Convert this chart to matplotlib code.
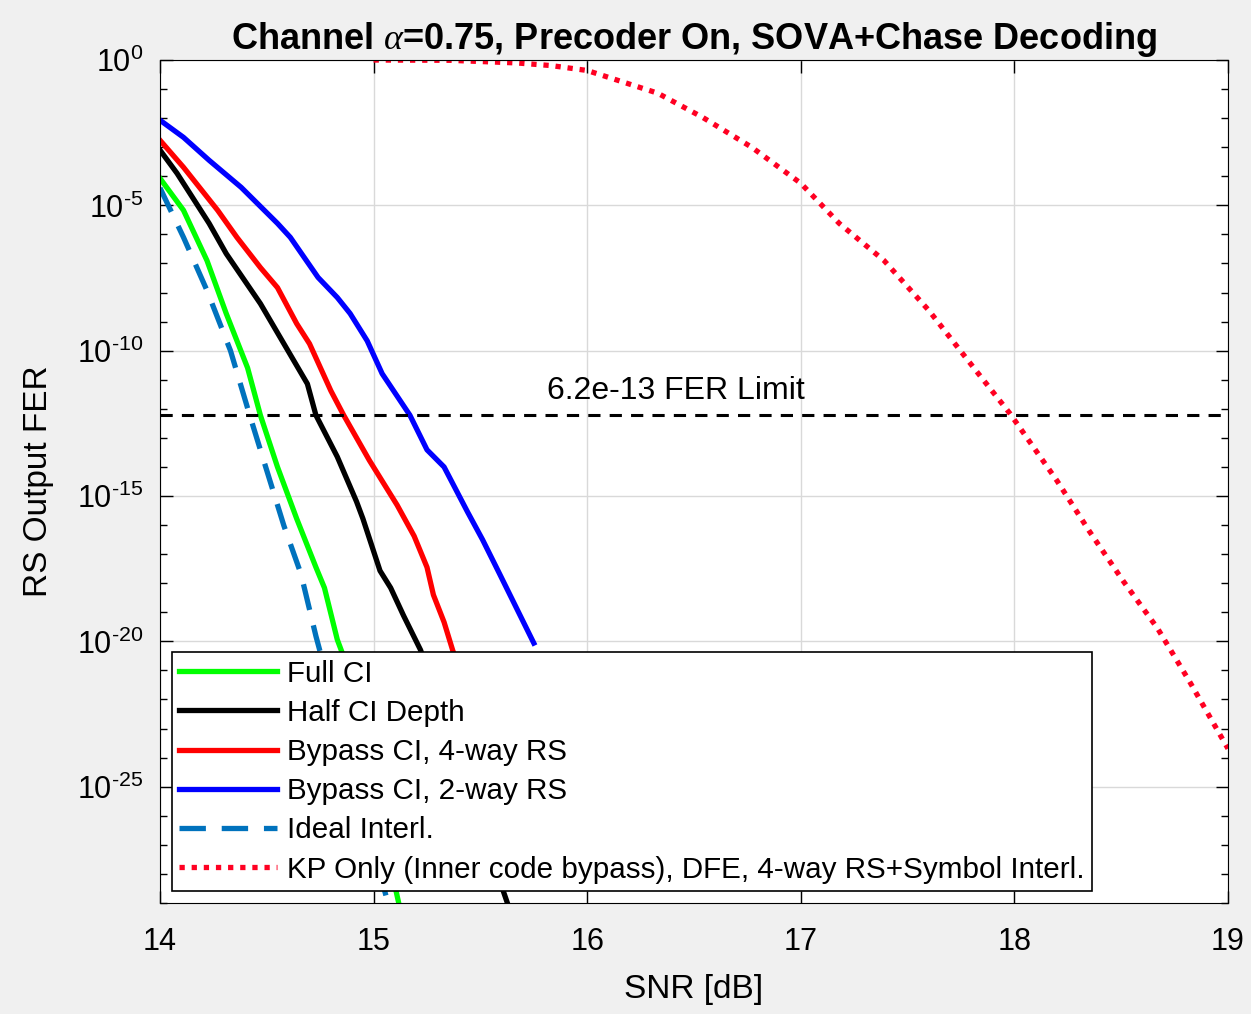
import numpy as np
import matplotlib
matplotlib.use("Agg")
import matplotlib.pyplot as plt
from matplotlib.ticker import FuncFormatter, LogLocator, NullFormatter

plt.rcParams['font.family'] = ['Liberation Sans', 'DejaVu Sans']
plt.rcParams['mathtext.fontset'] = 'custom'
plt.rcParams['mathtext.rm'] = 'Liberation Sans'
plt.rcParams['mathtext.it'] = 'Liberation Serif:italic'
plt.rcParams['mathtext.default'] = 'regular'

# ---- data (FER given as log10 exponents) ----
snr_full = [14.0, 14.11, 14.22, 14.31, 14.41, 14.47, 14.55, 14.64, 14.73, 14.77, 14.83, 14.86, 15.12, 15.14]
exp_full = [-4.07, -5.17, -6.90, -8.72, -10.59, -12.22, -14.0, -15.78, -17.45, -18.16, -19.94, -20.53, -29.08, -29.6]

snr_half = [14.0, 14.08, 14.23, 14.31, 14.47, 14.58, 14.69, 14.73, 14.83, 14.92, 14.95, 15.03, 15.08, 15.14,
            15.22, 15.63, 15.66]
exp_half = [-3.10, -3.90, -5.62, -6.66, -8.38, -9.76, -11.14, -12.22, -13.65, -15.19, -15.78, -17.57, -18.16,
            -19.11, -20.30, -29.08, -29.6]

snr_4way = [14.0, 14.11, 14.27, 14.36, 14.47, 14.55, 14.64, 14.70, 14.80, 14.86, 14.98, 15.05, 15.11,
            15.19, 15.25, 15.28, 15.33, 15.37, 15.6]
exp_4way = [-2.76, -3.69, -5.17, -6.10, -7.14, -7.83, -9.07, -9.76, -11.38, -12.22, -13.77, -14.6, -15.31,
            -16.38, -17.45, -18.40, -19.34, -20.30, -25.0]

snr_2way = [14.0, 14.11, 14.23, 14.38, 14.55, 14.61, 14.74, 14.83, 14.89, 14.97, 15.04, 15.17, 15.25,
            15.33, 15.44, 15.51, 15.59, 15.67, 15.75]
exp_2way = [-2.07, -2.66, -3.45, -4.38, -5.62, -6.10, -7.48, -8.17, -8.72, -9.66, -10.79, -12.22, -13.41,
            -14.0, -15.55, -16.50, -17.68, -18.87, -20.06]

snr_ideal = [14.0, 14.11, 14.22, 14.33, 14.42, 14.48, 14.58, 14.66, 14.73, 15.07, 15.09]
exp_ideal = [-4.4, -6.10, -7.93, -10.0, -12.22, -13.65, -16.02, -17.68, -19.82, -29.08, -29.6]

snr_kp = [15.0, 15.36, 15.67, 15.83, 16.0, 16.33, 16.54, 16.77, 17.0, 17.18, 17.39, 17.60,
          17.81, 17.98, 18.2, 18.35, 18.51, 18.67, 18.82, 19.0]
exp_kp = [0.0, -0.01, -0.10, -0.19, -0.36, -1.14, -1.97, -3.0, -4.24, -5.62, -6.90, -8.62,
          -10.59, -12.17, -14.48, -16.2, -17.93, -19.55, -21.38, -23.69]

fer_limit = 6.2e-13

labels = ['Full CI', 'Half CI Depth', 'Bypass CI, 4-way RS', 'Bypass CI, 2-way RS',
          'Ideal Interl.', 'KP Only (Inner code bypass), DFE, 4-way RS+Symbol Interl.']

fig = plt.figure(figsize=(12.51, 10.14), dpi=100, facecolor='#f0f0f0')
ax = fig.add_axes([0.1279, 0.1095, 0.8537, 0.8313])

lw = 3.8
ax.semilogy(snr_full, 10.0 ** np.array(exp_full), color='#00ff00', lw=lw, label=labels[0])
ax.semilogy(snr_half, 10.0 ** np.array(exp_half), color='k', lw=lw, label=labels[1])
ax.semilogy(snr_4way, 10.0 ** np.array(exp_4way), color='#ff0000', lw=lw, label=labels[2])
ax.semilogy(snr_2way, 10.0 ** np.array(exp_2way), color='#0000ff', lw=lw, label=labels[3])
ax.semilogy(snr_ideal, 10.0 ** np.array(exp_ideal), color='#0072bd', lw=lw, dashes=(5, 3),
            label=labels[4])
ax.semilogy(snr_kp, 10.0 ** np.array(exp_kp), color='#ff0022', lw=lw, dashes=(1, 1.3),
            dash_capstyle='butt', label=labels[5])

ax.axhline(fer_limit, color='k', lw=2.2, dashes=(4, 3))
ax.text(15.81, 10 ** -11.9, '6.2e-13 FER Limit', ha='left', va='bottom', fontsize=23)

ax.set_xlim(14, 19)
ax.set_ylim(1e-29, 1)
ax.set_xticks([14, 15, 16, 17, 18, 19])
ax.set_yticks([1e0, 1e-5, 1e-10, 1e-15, 1e-20, 1e-25])


def exp_label(v, pos):
    e = int(round(np.log10(v)))
    if e < 0:
        return r'$10^{\text{-}%d}$' % (-e)
    return r'$10^{%d}$' % e


ax.yaxis.set_major_formatter(FuncFormatter(exp_label))
ax.yaxis.set_minor_locator(LogLocator(base=10, subs=(1.0,), numticks=40))
ax.yaxis.set_minor_formatter(NullFormatter())
ax.tick_params(which='both', direction='in', top=True, right=True, labelsize=22)
ax.tick_params(which='major', length=9, width=1)
ax.tick_params(which='minor', length=5, width=1)
ax.tick_params(axis='x', pad=17)
ax.tick_params(axis='y', pad=12)
ax.grid(True, which='major', color='#d9d9d9', lw=1)

ax.set_xlabel('SNR [dB]', fontsize=24)
ax.set_ylabel('RS Output FER', fontsize=24)
ax.xaxis.set_label_coords(0.5, -0.084)
ax.yaxis.set_label_coords(-0.099, 0.5)
ax.set_title(r'Channel $\mathit{\alpha}$=0.75, Precoder On, SOVA+Chase Decoding',
             fontsize=26, fontweight='bold', pad=8)

leg = ax.legend(loc='lower left', fontsize=21.3, frameon=True, fancybox=False, framealpha=1,
                edgecolor='k', labelspacing=0.38, handlelength=3.3, handletextpad=0.35,
                borderpad=0.25, borderaxespad=0.4)
leg.get_frame().set_linewidth(1.2)

fig.savefig('out.png', dpi=100, facecolor=fig.get_facecolor())
